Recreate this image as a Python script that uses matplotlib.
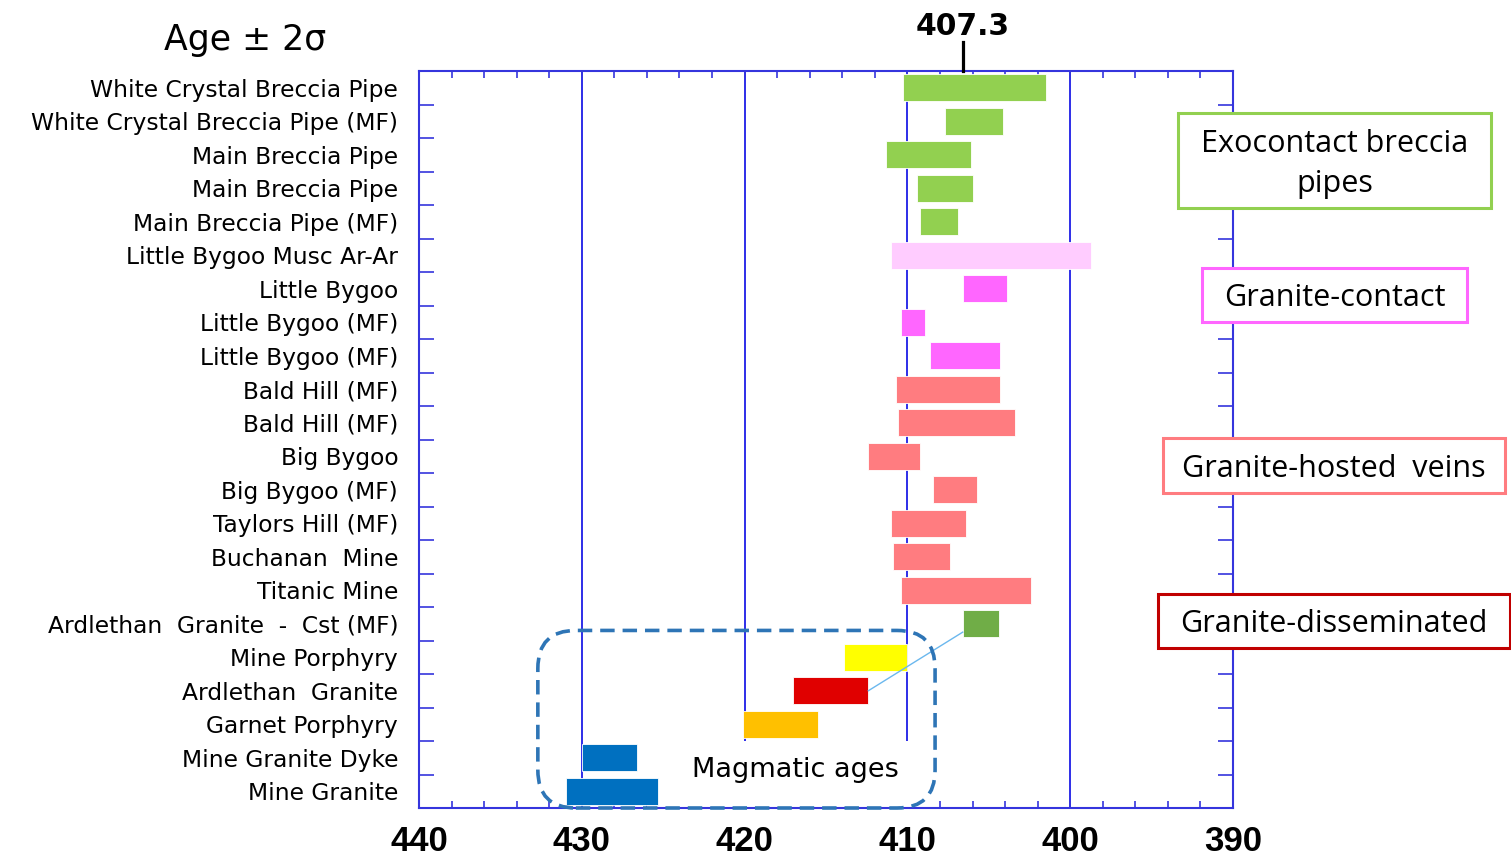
import numpy as np
import matplotlib
matplotlib.use("Agg")
import matplotlib.pyplot as plt
from matplotlib.patches import Rectangle, FancyBboxPatch
from matplotlib.transforms import IdentityTransform, blended_transform_factory

# ---------------- data ----------------
labels = [
    "White Crystal Breccia Pipe",
    "White Crystal Breccia Pipe (MF)",
    "Main Breccia Pipe",
    "Main Breccia Pipe",
    "Main Breccia Pipe (MF)",
    "Little Bygoo Musc Ar-Ar",
    "Little Bygoo",
    "Little Bygoo (MF)",
    "Little Bygoo (MF)",
    "Bald Hill (MF)",
    "Bald Hill (MF)",
    "Big Bygoo",
    "Big Bygoo (MF)",
    "Taylors Hill (MF)",
    "Buchanan  Mine",
    "Titanic Mine",
    "Ardlethan  Granite  -  Cst (MF)",
    "Mine Porphyry",
    "Ardlethan  Granite",
    "Garnet Porphyry",
    "Mine Granite Dyke",
    "Mine Granite",
]
age_old = [410.3, 407.7, 411.3, 409.4, 409.2, 411.0, 406.6, 410.4, 408.6, 410.7, 410.6,
           412.4, 408.4, 411.0, 410.9, 410.4, 406.6, 413.9, 417.0, 420.1, 430.0, 431.0]
age_young = [401.5, 404.1, 406.1, 406.0, 406.9, 398.7, 403.9, 408.9, 404.3, 404.3, 403.4,
             409.2, 405.7, 406.4, 407.4, 402.4, 404.4, 410.0, 412.4, 415.5, 426.6, 425.3]
bar_colors = (["#92D050"] * 5 + ["#FFCCFF"] + ["#FF66FF"] * 3 + ["#FF7C80"] * 7 +
              ["#70AD47", "#FFFF00", "#E00000", "#FFC000", "#0070C0", "#0070C0"])
x_ticks = [440, 430, 420, 410, 400, 390]
grid_x = [430, 420, 410, 400]
marker_age = 406.6
marker_text = "407.3"
groups = ["Exocontact breccia\npipes", "Granite-contact", "Granite-hosted  veins",
          "Granite-disseminated"]
group_colors = ["#92D050", "#FF66FF", "#FF7C80", "#C00000"]

# ---------------- figure ----------------
W, H, DPI = 1511, 860, 100
fig = plt.figure(figsize=(W / DPI, H / DPI), dpi=DPI)
ax = fig.add_axes([419 / W, 1 - 808 / H, (1233 - 419) / W, (808 - 71) / H])

rows = np.arange(len(labels))
old = np.array(age_old)
young = np.array(age_young)

axis_blue = "#3535DD"
for gx in grid_x:
    ax.axvline(gx, color="#1E1EE6", lw=1.3, zorder=1)

ax.barh(rows, old - young, left=young, height=0.8, color=bar_colors,
        edgecolor="white", linewidth=0.6, zorder=3)

ax.set_xlim(440, 390)
ax.set_ylim(len(labels) - 0.5, -0.5)

# white box behind "Magmatic ages" (covers grid lines)
ax.add_patch(Rectangle((409.0, 19.5), 17.0, 2.0, facecolor="white", edgecolor="none",
                       zorder=2))
ax.text(416.9, 20.38, "Magmatic ages", fontsize=19.5, family="DejaVu Sans",
        ha="center", va="center", zorder=4)

# connector line
ax.plot([age_young[18], age_old[16]], [18.0, 16.25], color="#6BB8EE", lw=1.0, zorder=4)

# ticks
ax.set_xticks(x_ticks)
ax.set_xticks(np.arange(390, 441, 2), minor=True)
ax.set_xticklabels([str(t) for t in x_ticks], fontsize=25, fontweight="bold",
                   family="Liberation Sans")
ax.tick_params(axis="x", which="both", direction="in", top=True, bottom=True,
               color=axis_blue, length=5, width=1.2, pad=12)
ax.set_yticks(rows)
ax.set_yticklabels(labels, fontsize=16.8, family="DejaVu Sans")
ax.set_yticks(np.arange(-0.5, len(labels)), minor=True)
ax.tick_params(axis="y", which="major", length=0, pad=15)
ax.tick_params(axis="y", which="minor", direction="in", left=True, right=True,
               color=axis_blue, length=11, width=1.2)
for s in ax.spines.values():
    s.set_color(axis_blue)
    s.set_linewidth(1.5)
    s.set_zorder(5)

# header
fig.text(245 / W, 1 - 40 / H, "Age ± 2σ", fontsize=25, family="DejaVu Sans",
         ha="center", va="center")

# 407.3 marker
trans = blended_transform_factory(ax.transData, ax.transAxes)
ax.plot([marker_age, marker_age], [1.0, 1.04], transform=trans, color="black",
        lw=2.3, clip_on=False, zorder=6)
ax.text(marker_age, 1.061, marker_text, transform=trans, fontsize=21.5,
        fontweight="bold", family="DejaVu Sans", ha="center", va="center")

# dashed rounded box around magmatic ages (computed from data coords)
p0 = ax.transData.transform((432.7, 21.5))
p1 = ax.transData.transform((408.3, 16.2))
x0, x1 = sorted([p0[0], p1[0]])
y0, y1 = sorted([p0[1], p1[1]])
box = FancyBboxPatch((x0, y0), x1 - x0, y1 - y0,
                     boxstyle="round,pad=0,rounding_size=38",
                     transform=IdentityTransform(), facecolor="none",
                     edgecolor="#2E75B6", lw=2.6, linestyle=(0, (4, 2.2)),
                     zorder=7, clip_on=False)
fig.patches.append(box)

# group boxes (figure pixels)
box_px = [(1178, 113, 1491, 208), (1202, 268, 1467, 322),
          (1163, 438, 1505, 493), (1158, 594, 1510, 648)]
for (bx0, by0, bx1, by1), txt, col in zip(box_px, groups, group_colors):
    r = Rectangle((bx0 / W, 1 - by1 / H), (bx1 - bx0) / W, (by1 - by0) / H,
                  transform=fig.transFigure, facecolor="white", edgecolor=col,
                  lw=2.2, zorder=10)
    fig.patches.append(r)
    fig.text((bx0 + bx1) / 2 / W, 1 - (by0 + by1) / 2 / H - 0.004, txt, fontsize=22,
             family="Open Sans", ha="center", va="center", linespacing=1.45,
             zorder=11)

fig.savefig("out.png", dpi=DPI)
